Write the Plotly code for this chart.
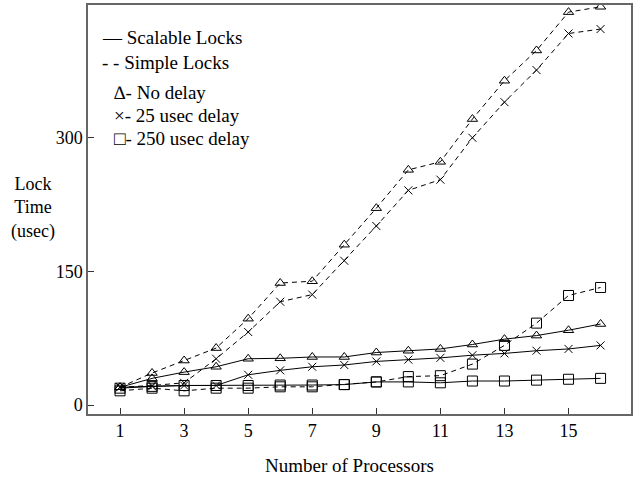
import plotly.graph_objects as go

processors = list(range(1, 17))

scalable_no_delay = [20, 30, 37, 43, 52, 52.5, 54, 54, 59, 61, 63, 68, 74, 78, 84, 91]
scalable_25 = [20, 21, 22, 22, 34, 39, 43, 45, 49, 51, 53, 56, 58, 61, 63, 67]
scalable_250 = [19, 21, 22, 22, 22, 22.5, 22.5, 23, 26, 26, 25, 27, 27, 28, 29, 30]

simple_no_delay = [20, 36, 50, 64, 97, 137, 139, 180, 221, 264, 273, 321, 364, 398, 441, 447]
simple_25 = [20, 22, 25, 52, 82, 116, 124, 162, 201, 241, 253, 300, 340, 376, 417, 422]
simple_250 = [16, 19, 16, 19, 19, 20.5, 20.5, 23, 26, 32, 33, 46, 67, 92, 123, 132]

x_ticks = [1, 3, 5, 7, 9, 11, 13, 15]
y_ticks = [0, 150, 300]

legend_lines = ["\u2014 Scalable Locks", "- - Simple Locks"]
legend_markers = ["\u2206- No delay", "\u00d7- 25 usec delay", "\u25a1- 250 usec delay"]

FONT = "Liberation Serif, Times New Roman, serif"
FS = 19

fig = go.Figure()

series = [
    (scalable_no_delay, "solid", "triangle-up-open", 9),
    (scalable_25, "solid", "x-thin-open", 8),
    (scalable_250, "solid", "square-open", 10),
    (simple_no_delay, "5px,4px", "triangle-up-open", 9),
    (simple_25, "5px,4px", "x-thin-open", 8),
    (simple_250, "5px,4px", "square-open", 10),
]
for ys, dash, sym, sz in series:
    fig.add_trace(go.Scatter(
        x=processors, y=ys, mode="lines+markers",
        line=dict(color="black", width=1, dash=dash),
        marker=dict(symbol=sym, size=sz, color="black", line=dict(width=1, color="black")),
        showlegend=False,
    ))

L, T, W, H = 88, 5, 545, 409

def px(x):
    return (x - L) / W

def py(y):
    return (T + H - y) / H

annotations = []
for txt, yy in zip(legend_lines, [38, 62]):
    annotations.append(dict(text=txt, x=px(100), y=py(yy), xref="paper", yref="paper",
                            xanchor="left", yanchor="middle", showarrow=False,
                            font=dict(family=FONT, size=FS, color="black")))
for txt, yy in zip(legend_markers, [92, 115, 138]):
    annotations.append(dict(text=txt, x=px(112), y=py(yy), xref="paper", yref="paper",
                            xanchor="left", yanchor="middle", showarrow=False,
                            font=dict(family=FONT, size=FS, color="black")))
annotations.append(dict(text="Lock<br>Time<br>(usec)", x=px(33), y=py(208), xref="paper", yref="paper",
                        xanchor="center", yanchor="middle", showarrow=False,
                        font=dict(family=FONT, size=FS - 1, color="black")))
annotations.append(dict(text="Number of Processors", x=px(350), y=py(465), xref="paper", yref="paper",
                        xanchor="center", yanchor="middle", showarrow=False,
                        font=dict(family=FONT, size=FS, color="black")))

fig.update_layout(
    width=634, height=480,
    margin=dict(l=L, r=634 - L - W, t=T, b=480 - T - H),
    plot_bgcolor="white", paper_bgcolor="white",
    font=dict(family=FONT, size=18, color="black"),
    annotations=annotations,
)
fig.update_xaxes(range=[0, 16.95], tickvals=x_ticks, ticks="inside", ticklen=6,
                 tickcolor="#333", showgrid=False, zeroline=False, showline=True,
                 linecolor="#666", linewidth=1.5, mirror=True,
                 tickfont=dict(family=FONT, size=18, color="black"))
fig.update_yaxes(range=[-10, 449], tickvals=y_ticks, ticks="inside", ticklen=6,
                 tickcolor="#333", showgrid=False, zeroline=False, showline=True,
                 linecolor="#666", linewidth=1.5, mirror=True,
                 tickfont=dict(family=FONT, size=18, color="black"))

fig.write_html("out.html", config={"displayModeBar": False},
               post_script="document.body.style.margin='0';document.body.style.overflow='hidden';")
